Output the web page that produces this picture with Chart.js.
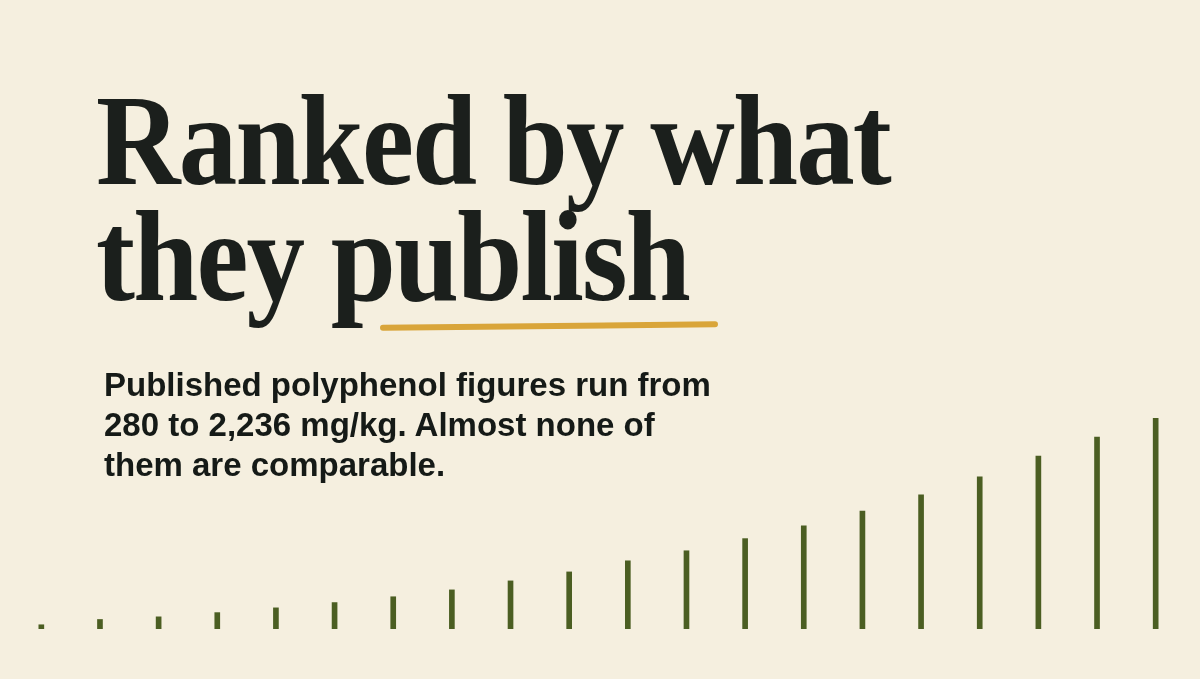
<!DOCTYPE html>
<html>
<head>
<meta charset="utf-8">
<script src="https://cdn.jsdelivr.net/npm/chart.js@4"></script>
<style>
    html, body { margin: 0; padding: 0; }
    body {
        width: 1200px;
        height: 679px;
        background: #f5efdf;
        position: relative;
        overflow: hidden;
    }
    .title {
        position: absolute;
        left: 96px;
        top: 82px;
        margin: 0;
        font-family: "Liberation Serif", "DejaVu Serif", serif;
        font-weight: bold;
        font-size: 130px;
        line-height: 116px;
        letter-spacing: -2px;
        color: #1b1f1c;
        white-space: nowrap;
        transform: scaleX(0.9);
        transform-origin: left top;
    }
    .underline {
        position: absolute;
        left: 380px;
        top: 323px;
        width: 338px;
        height: 6px;
        background: #d9a53a;
        border-radius: 3px;
        transform: rotate(-0.6deg);
    }
    .subtitle {
        position: absolute;
        left: 104px;
        top: 365px;
        margin: 0;
        font-family: "Liberation Sans", Arial, sans-serif;
        font-weight: bold;
        font-size: 33px;
        line-height: 40px;
        color: #151a17;
        white-space: nowrap;
    }
    #chartWrap {
        position: absolute;
        left: 0;
        top: 0;
        width: 1200px;
        height: 679px;
    }
</style>
</head>
<body>
<div id="chartWrap"><canvas id="bars"></canvas></div>
<h1 class="title">Ranked by what<br>they publish</h1>
<div class="underline"></div>
<p class="subtitle">Published polyphenol figures run from<br>280 to 2,236 mg/kg. Almost none of<br>them are comparable.</p>

<script>
// Published polyphenol figures (mg/kg), ranked low to high
const ranks = ['1', '2', '3', '4', '5', '6', '7', '8', '9', '10',
               '11', '12', '13', '14', '15', '16', '17', '18', '19', '20'];
const polyphenols = [280, 330, 355, 395, 440, 490, 545, 610, 695, 780,
                     885, 980, 1095, 1215, 1355, 1510, 1680, 1875, 2055, 2236];

const ctx = document.getElementById('bars').getContext('2d');

new Chart(ctx, {
    type: 'bar',
    data: {
        labels: ranks,
        datasets: [{
            data: polyphenols,
            backgroundColor: '#4b5e22',
            borderWidth: 0,
            barThickness: 5
        }]
    },
    options: {
        responsive: true,
        maintainAspectRatio: false,
        animation: false,
        layout: {
            padding: { top: 418, bottom: 50, left: 12, right: 15 }
        },
        plugins: {
            legend: { display: false },
            tooltip: { enabled: false }
        },
        scales: {
            x: { display: false, offset: true },
            y: { display: false, min: 240, max: 2236 }
        }
    }
});
</script>
</body>
</html>
